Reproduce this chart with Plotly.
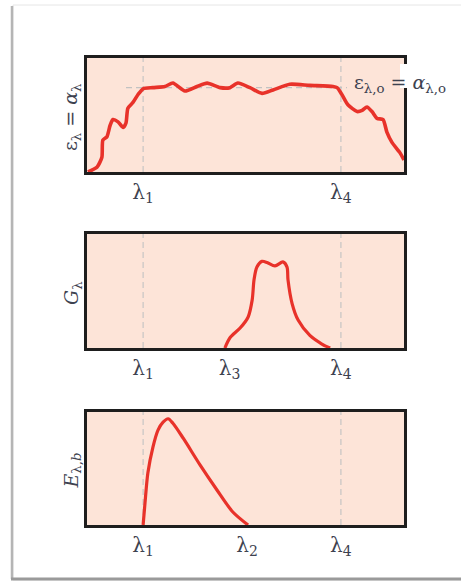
import plotly.graph_objects as go

# ---------------- data ----------------
# panel 1: spectral emissivity = absorptivity
x_eps = [0.03, 0.32, 0.47, 0.50, 0.63, 0.73, 0.82, 0.98, 1.14, 1.23, 1.29, 1.45, 1.61, 1.77,
         2.08, 2.46, 2.71, 3.09, 3.47, 3.79, 4.20, 4.51, 4.76, 5.14, 5.52, 5.87, 6.40, 7.03,
         7.76, 7.89, 8.04, 8.23, 8.52, 8.68, 8.83, 8.99, 9.15, 9.34, 9.46, 9.62, 9.87, 10.0]
y_eps = [0.0, 0.044, 0.13, 0.28, 0.31, 0.41, 0.46, 0.44, 0.39, 0.43, 0.56, 0.61, 0.68, 0.73,
         0.74, 0.75, 0.78, 0.71, 0.75, 0.78, 0.74, 0.74, 0.78, 0.74, 0.69, 0.72, 0.77, 0.76,
         0.75, 0.74, 0.68, 0.59, 0.53, 0.54, 0.57, 0.53, 0.47, 0.46, 0.35, 0.26, 0.17, 0.105]
eps_level = 0.74

# panel 2: irradiation
x_G = [4.35, 4.51, 4.83, 5.08, 5.21, 5.27, 5.36, 5.52, 5.68, 5.93, 6.18, 6.31, 6.34, 6.47,
       6.66, 7.03, 7.41, 7.67]
y_G = [0.0, 0.09, 0.175, 0.27, 0.42, 0.60, 0.71, 0.76, 0.75, 0.72, 0.755, 0.71, 0.60, 0.39,
       0.245, 0.11, 0.035, 0.0]

# panel 3: blackbody emissive power
x_Eb = [1.77, 1.83, 1.92, 2.08, 2.24, 2.40, 2.56, 2.71, 3.03, 3.57, 4.10, 4.60, 5.08]
y_Eb = [0.0, 0.195, 0.46, 0.69, 0.84, 0.91, 0.94, 0.90, 0.77, 0.53, 0.31, 0.115, 0.0]

lam1, lam2, lam3, lam4 = 1.77, 5.05, 4.5, 8.01

ticks1 = [lam1, lam4]
labels1 = ["λ<sub>1</sub>", "λ<sub>4</sub>"]
ticks2 = [lam1, lam3, lam4]
labels2 = ["λ<sub>1</sub>", "λ<sub>3</sub>", "λ<sub>4</sub>"]
ticks3 = [lam1, lam2, lam4]
labels3 = ["λ<sub>1</sub>", "λ<sub>2</sub>", "λ<sub>4</sub>"]

ylabel1 = "ε<sub>λ</sub> = <i>α</i><sub>λ</sub>"
ylabel2 = "<i>G</i><sub>λ</sub>"
ylabel3 = "<i>E</i><sub>λ,<i>b</i></sub>"
eps_note = "ε<sub>λ,o</sub> = <i>α</i><sub>λ,o</sub>"

# ---------------- styling ----------------
W, H = 461, 582
RED = "#e8322a"
PINK = "#fde4d8"
TXT = "#3d4250"
FONT = "DejaVu Serif"

def px_x(p):
    return p / W

def px_y(p):
    return 1 - p / H

left, right = 87, 404
panels = [(58, 172), (234, 348), (412, 525)]

fig = go.Figure()
fig.add_trace(go.Scatter(x=x_eps, y=y_eps, mode="lines", line=dict(color=RED, width=3.6, shape="spline", smoothing=0.6),
                         xaxis="x", yaxis="y", showlegend=False, hoverinfo="skip"))
fig.add_trace(go.Scatter(x=x_G, y=y_G, mode="lines", line=dict(color=RED, width=3.2, shape="spline", smoothing=0.8),
                         xaxis="x2", yaxis="y2", showlegend=False, hoverinfo="skip"))
fig.add_trace(go.Scatter(x=x_Eb, y=y_Eb, mode="lines", line=dict(color=RED, width=3.2, shape="spline", smoothing=0.8),
                         xaxis="x3", yaxis="y3", showlegend=False, hoverinfo="skip"))

axis_common = dict(showline=True, linecolor="#1e1e1e", linewidth=2.8, mirror=True, showgrid=False,
                   zeroline=False, fixedrange=True)
layout = dict(width=W, height=H, margin=dict(l=0, r=0, t=0, b=0), paper_bgcolor="white",
              plot_bgcolor=PINK, font=dict(family=FONT, color=TXT, size=18))
tick_sets = [(ticks1, labels1), (ticks2, labels2), (ticks3, labels3)]
for i, ((top, bot), (tv, tt)) in enumerate(zip(panels, tick_sets)):
    sfx = "" if i == 0 else str(i + 1)
    layout["xaxis" + sfx] = dict(axis_common, domain=[px_x(left), px_x(right)], range=[0, 10],
                                 anchor="y" + sfx, tickvals=tv, ticktext=tt, ticks="",
                                 tickfont=dict(family=FONT, size=20, color=TXT))
    layout["yaxis" + sfx] = dict(axis_common, domain=[px_y(bot), px_y(top)], range=[0, 1],
                                 anchor="x" + sfx, showticklabels=False, ticks="")
fig.update_layout(**layout)

shapes = []
dash = dict(color="#c2c2c2", width=1.1, dash="6px,4px")
for i, xs in enumerate([[lam1, lam4], [lam1, lam4], [lam1, lam4]]):
    sfx = "" if i == 0 else str(i + 1)
    for xv in xs:
        shapes.append(dict(type="line", xref="x" + sfx, yref="y" + sfx, x0=xv, x1=xv, y0=0, y1=1,
                           line=dash, layer="below"))
shapes.append(dict(type="line", xref="x", yref="y", x0=1.23, x1=8.2, y0=eps_level, y1=eps_level,
                   line=dash, layer="below"))
# gap in the right border where the label sits
shapes.append(dict(type="rect", xref="paper", yref="paper", x0=px_x(400), x1=px_x(407),
                   y0=px_y(88), y1=px_y(64), fillcolor="white", line=dict(width=0), layer="above"))
# outer frame
shapes.append(dict(type="rect", xref="paper", yref="paper", x0=px_x(13), x1=1.1,
                   y0=px_y(580), y1=px_y(5), line=dict(color="#e6e6e6", width=1), layer="below"))
shapes.append(dict(type="line", xref="paper", yref="paper", x0=px_x(12), x1=px_x(12),
                   y0=px_y(579), y1=px_y(6), line=dict(color="#b5b5b5", width=2.5)))
shapes.append(dict(type="line", xref="paper", yref="paper", x0=px_x(11), x1=1,
                   y0=px_y(579), y1=px_y(579), line=dict(color="#9a9a9a", width=3)))
fig.update_layout(shapes=shapes)

ann = []
for (top, bot), txt in zip(panels, [ylabel1, ylabel2, ylabel3]):
    ann.append(dict(text=txt, xref="paper", yref="paper", x=px_x(72), y=px_y((top + bot) / 2 + 2),
                    showarrow=False, textangle=-90, font=dict(family=FONT, size=19, color=TXT),
                    xanchor="center", yanchor="middle"))
ann.append(dict(text=eps_note, xref="paper", yref="paper", x=px_x(400), y=px_y(84),
                showarrow=False, font=dict(family=FONT, size=19, color=TXT),
                xanchor="center", yanchor="middle"))
fig.update_layout(annotations=ann)

fig.write_html("out.html", config={"displayModeBar": False},
               post_script="document.body.style.margin='0';document.body.style.overflow='hidden';")
